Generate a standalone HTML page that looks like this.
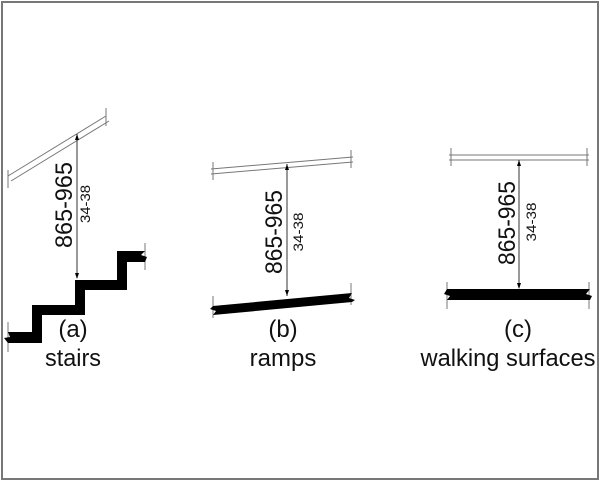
<!DOCTYPE html>
<html><head><style>html,body{margin:0;padding:0;background:#fff}svg{display:block}</style></head>
<body>
<svg width="601" height="481" viewBox="0 0 601 481" xmlns="http://www.w3.org/2000/svg" font-family="Liberation Sans, sans-serif">
<rect x="2" y="2" width="596" height="477" fill="#fff" stroke="#777" stroke-width="2"/>
<g stroke="#777" stroke-width="1" fill="none">
<line x1="8" y1="176" x2="106" y2="116"/>
<line x1="11" y1="181" x2="109" y2="121"/>
<line x1="8" y1="170" x2="8" y2="188"/><line x1="106" y1="108" x2="106" y2="126"/>
<line x1="211" y1="169" x2="353" y2="157"/>
<line x1="211" y1="174" x2="353" y2="162"/>
<line x1="213" y1="162" x2="213" y2="180"/><line x1="351" y1="150" x2="351" y2="168"/>
<line x1="449" y1="155" x2="589" y2="155"/>
<line x1="449" y1="160" x2="589" y2="160"/>
<line x1="451" y1="148" x2="451" y2="166"/><line x1="587" y1="148" x2="587" y2="166"/>
<line x1="8" y1="322" x2="8" y2="352"/><line x1="145" y1="243" x2="145" y2="270"/>
<line x1="213" y1="296" x2="213" y2="318"/><line x1="351" y1="283" x2="351" y2="305"/>
<line x1="447" y1="282" x2="447" y2="309"/><line x1="589" y1="282" x2="589" y2="309"/>
</g>
<g stroke="#333" stroke-width="1">
<line x1="77" y1="134" x2="77" y2="278"/>
<line x1="287" y1="164" x2="287" y2="296"/>
<line x1="519" y1="160" x2="519" y2="288"/>
</g>
<g fill="#000">
<polygon points="77,134 75,140 79,140"/><polygon points="77,279 75,273 79,273"/>
<polygon points="287,164 285,170 289,170"/><polygon points="287,296 285,290 289,290"/>
<polygon points="519,160 517,166 521,166"/><polygon points="519,289 517,283 521,283"/>
<polygon points="8,332 32,332 32,305 75,305 75,280 117,280 117,251 145,251 141,255 147,257 145,262 127,262 127,290 85,290 85,315 42,315 42,343 8,343 4,338 10,337"/>
<polygon points="213,306 352,293 349,298 355,300 352,302 213,315 216,311 210,309"/>
<polygon points="447,289 590,289 586,294 592,296 590,300 447,300 450,296 444,294"/>
</g>
<g fill="#111">
<text transform="translate(72,205) rotate(-90)" font-size="24" text-anchor="middle" textLength="86" lengthAdjust="spacingAndGlyphs">865-965</text>
<text transform="translate(90,204) rotate(-90)" font-size="14" text-anchor="middle" textLength="38" lengthAdjust="spacingAndGlyphs">34-38</text>
<text transform="translate(282,232) rotate(-90)" font-size="24" text-anchor="middle" textLength="84" lengthAdjust="spacingAndGlyphs">865-965</text>
<text transform="translate(303,232) rotate(-90)" font-size="14" text-anchor="middle" textLength="39" lengthAdjust="spacingAndGlyphs">34-38</text>
<text transform="translate(515,223) rotate(-90)" font-size="24" text-anchor="middle" textLength="84" lengthAdjust="spacingAndGlyphs">865-965</text>
<text transform="translate(536,222) rotate(-90)" font-size="14" text-anchor="middle" textLength="39" lengthAdjust="spacingAndGlyphs">34-38</text>
<g font-size="24" text-anchor="middle">
<text x="73" y="337">(a)</text><text x="73" y="366" textLength="56" lengthAdjust="spacingAndGlyphs">stairs</text>
<text x="283" y="337">(b)</text><text x="283" y="366">ramps</text>
<text x="518" y="337">(c)</text><text x="508" y="366" textLength="175" lengthAdjust="spacingAndGlyphs">walking surfaces</text>
</g>
</g>
</svg>
</body></html>
